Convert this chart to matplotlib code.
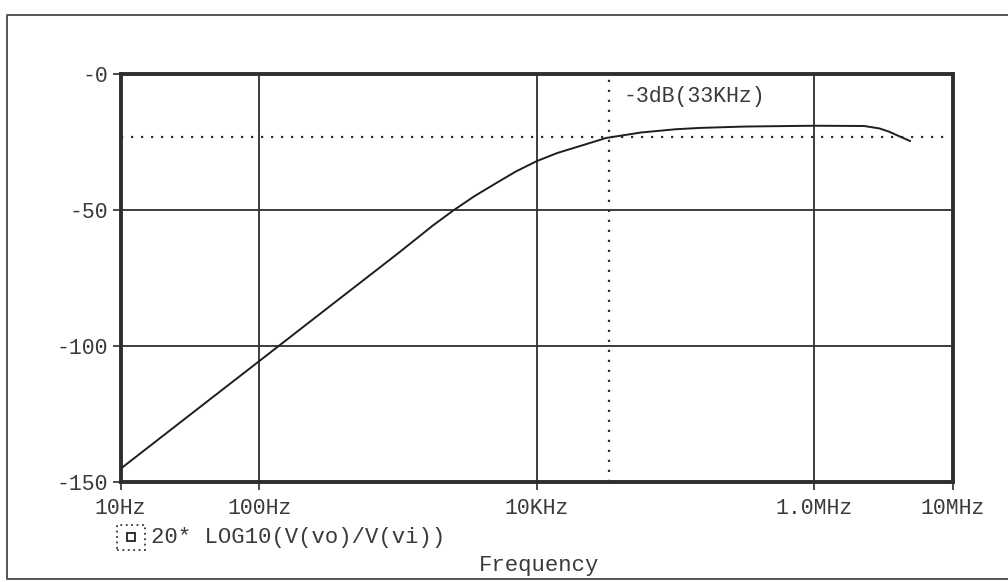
import numpy as np
import matplotlib.pyplot as plt
from matplotlib.patches import Rectangle
from matplotlib.lines import Line2D

# ---- data ----
freq_hz = [10, 31.6, 100, 316, 1000, 1780, 2510, 3550, 5130, 7080, 10000,
           14100, 20400, 31600, 56200, 100000, 151000, 316000, 1000000,
           2290000, 2950000, 3470000, 4070000, 4900000]
gain_db = [-145, -125.2, -105.4, -85.6, -65.8, -55.6, -50, -44.8, -39.9, -35.7, -31.9,
           -28.9, -26.4, -23.4, -21.4, -20.2, -19.7, -19.2, -18.9,
           -19.0, -19.9, -21.1, -22.7, -24.5]

cutoff_hz = 33000
cutoff_db = -23

x_ticks = [10, 100, 10000, 1e6, 1e7]
x_ticklabels = ["10Hz", "100Hz", "10KHz", "1.0MHz", "10MHz"]
y_ticks = [0, -50, -100, -150]
y_ticklabels = ["-0", "-50", "-100", "-150"]
x_grid = [100, 10000, 1e6]
y_grid = [-50, -100]

MONO = "Liberation Mono"
INK = "#2b2f2e"
TXT = "#3a3a3a"

fig = plt.figure(figsize=(10.08, 5.82), dpi=100)
ax = fig.add_axes([0.1197, 0.1713, 0.9454 - 0.1197, 0.8723 - 0.1713])

ax.set_xscale("log")
ax.set_xlim(10, 1e7)
ax.set_ylim(-150, 0)

# grid
for g in x_grid:
    ax.axvline(g, color=INK, lw=1.3, zorder=1)
for g in y_grid:
    ax.axhline(g, color=INK, lw=1.3, zorder=1)

# -3dB markers
ax.axhline(cutoff_db, color=INK, lw=1.6, ls=(0, (1, 3.5)), zorder=1)
ax.axvline(cutoff_hz, color=INK, lw=1.6, ls=(0, (1, 3.5)), zorder=1)
ax.text(cutoff_hz * 1.28, -4.3, "-3dB(33KHz)", family=MONO, fontsize=15.5,
        color=TXT, va="top", ha="left")

# curve
ax.plot(freq_hz, gain_db, color="#1e1e1e", lw=1.4, zorder=3)

# ticks / labels
ax.set_xticks(x_ticks)
ax.set_xticklabels(x_ticklabels)
ax.xaxis.set_minor_locator(plt.NullLocator())
ax.set_yticks(y_ticks)
ax.set_yticklabels(y_ticklabels)
ax.tick_params(axis="both", direction="out", length=6, width=1.2, color=INK,
               labelsize=15.5, labelcolor=TXT)
ax.tick_params(axis="x", pad=5)
ax.tick_params(axis="y", pad=3)
for lab in ax.get_xticklabels() + ax.get_yticklabels():
    lab.set_family(MONO)

for sp in ax.spines.values():
    sp.set_linewidth(2.8)
    sp.set_color(INK)

# legend marker + trace name
fig.patches.append(Rectangle((117 / 1008, 1 - 550 / 582), 28 / 1008, 25 / 582,
                             transform=fig.transFigure, fill=False,
                             ec="#333", lw=1.3, ls=(0, (1, 2))))
fig.patches.append(Rectangle((127 / 1008, 1 - 541 / 582), 8 / 1008, 8 / 582,
                             transform=fig.transFigure, fill=False,
                             ec="#222", lw=1.3))
fig.text(151 / 1008, 1 - 537 / 582, "20* LOG10(V(vo)/V(vi))", family=MONO,
         fontsize=16, color=TXT, va="center", ha="left")
fig.text(539 / 1008, 1 - 566 / 582, "Frequency", family=MONO, fontsize=16,
         color=TXT, va="center", ha="center")

# scanned page frame (top, left, bottom)
fig.lines.append(Line2D([1.0, 7 / 1008, 7 / 1008, 1.0],
                        [1 - 15 / 582, 1 - 15 / 582, 1 - 579 / 582, 1 - 579 / 582],
                        transform=fig.transFigure, color="#555", lw=1.4))

fig.savefig("out.png", dpi=100)
